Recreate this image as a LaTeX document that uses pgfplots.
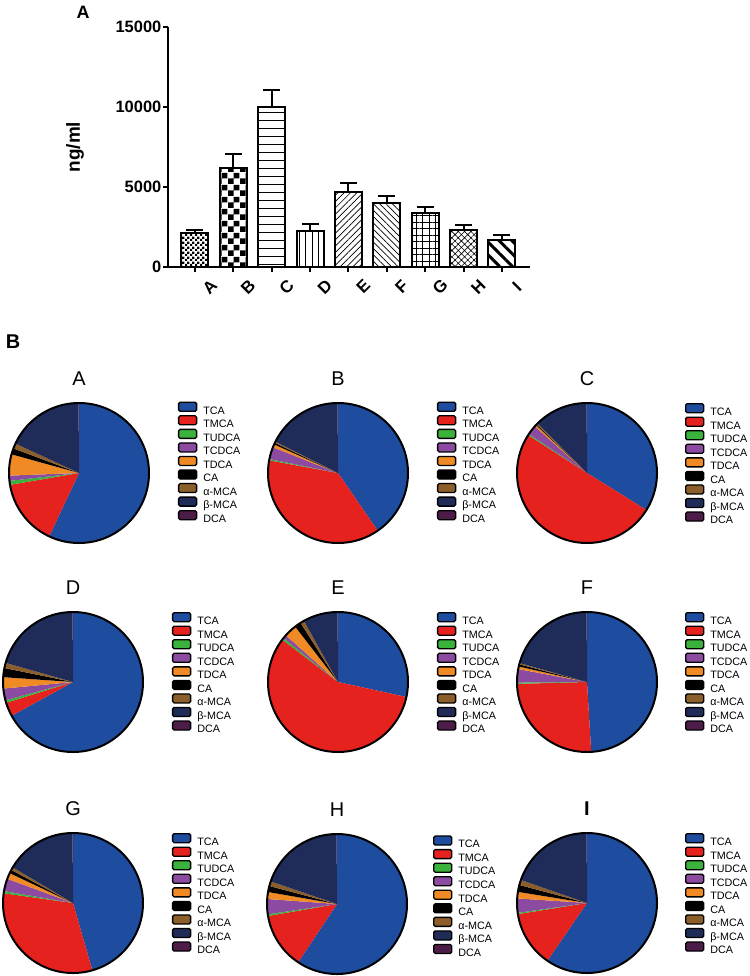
\documentclass[border=0pt]{standalone}
\usepackage{fontspec}
\setmainfont{Liberation Sans}
\usepackage{pgfplots}
\pgfplotsset{compat=1.18}
\usepackage{pgfplotstable}
\usetikzlibrary{patterns,patterns.meta}

\definecolor{c0}{RGB}{30,76,158}
\definecolor{c1}{RGB}{230,34,30}
\definecolor{c2}{RGB}{58,178,60}
\definecolor{c3}{RGB}{140,74,160}
\definecolor{c4}{RGB}{240,138,36}
\definecolor{c5}{RGB}{0,0,0}
\definecolor{c6}{RGB}{139,94,42}
\definecolor{c7}{RGB}{31,43,88}
\definecolor{c8}{RGB}{78,28,72}

% checkerboards for bars A and B
\pgfdeclarepattern{
  name=smallchecker, type=uncolored,
  bottom left={\pgfpointorigin}, top right={\pgfpoint{5bp}{5bp}},
  tile size={\pgfpoint{5bp}{5bp}},
  code={\pgfpathrectangle{\pgfpointorigin}{\pgfpoint{2.5bp}{2.5bp}}
        \pgfpathrectangle{\pgfpoint{2.5bp}{2.5bp}}{\pgfpoint{2.5bp}{2.5bp}}
        \pgfusepath{fill}}
}
\pgfdeclarepattern{
  name=bigchecker, type=uncolored,
  bottom left={\pgfpointorigin}, top right={\pgfpoint{12bp}{12bp}},
  tile size={\pgfpoint{12bp}{12bp}},
  code={\pgfpathrectangle{\pgfpointorigin}{\pgfpoint{6bp}{6bp}}
        \pgfpathrectangle{\pgfpoint{6bp}{6bp}}{\pgfpoint{6bp}{6bp}}
        \pgfusepath{fill}}
}

% share of each bile acid (%), one column per group
\pgfplotstableread{
comp  A    B    C    D    E    F    G    H    I
TCA   57.0 40.4 33.9 67.0 28.5 49.2 45.6 59.5 59.7
TMCA  15.3 37.5 50.3 3.2  57.0 25.6 31.7 12.9 12.9
TUDCA 0.9  0.3  0.3  0.6  0.5  0.3  0.5  0.4  0.3
TCDCA 1.2  2.8  2.2  2.7  0.8  3.1  2.9  3.5  3.3
TDCA  4.9  0.7  0.4  2.6  2.9  0.6  1.4  1.6  1.5
CA    1.4  0.4  0.2  2.1  1.5  0.5  0.8  1.4  1.6
aMCA  1.2  0.3  0.3  1.2  0.9  0.3  0.7  1.1  1.2
bMCA  18.0 17.5 12.4 20.5 8.0  20.6 16.4 19.7 19.6
DCA   0.1  0.1  0.1  0.1  0.1  0.1  0.1  0.1  0.1
}\pies

\newcommand\drawpie[1]{%
  \def\piesum{0}%
  \pgfplotsforeachungrouped \i in {0,...,8}{%
    \pgfplotstablegetelem{\i}{#1}\of\pies
    \pgfmathsetmacro\piesum{\piesum+\pgfplotsretval}%
  }%
  \def\ang{90}%
  \pgfplotsforeachungrouped \i in {0,...,8}{%
    \pgfplotstablegetelem{\i}{#1}\of\pies
    \pgfmathsetmacro\angb{\ang-\pgfplotsretval/\piesum*360}%
    \pgfmathsetmacro\sx{cos(\ang)}%
    \pgfmathsetmacro\sy{sin(\ang)}%
    \edef\cmd{\noexpand\fill[c\i] (axis cs:0,0) -- (axis cs:\sx,\sy)
      arc[start angle=\ang, end angle=\angb, radius=70bp] -- cycle;}%
    \cmd
    \let\ang\angb
  }%
  \draw[line width=2bp] (axis cs:0,0) circle[radius=70bp];
  \pgfplotsforeachungrouped \i in {0,...,8}{%
    \edef\cmd{\noexpand\addlegendimage{fill=c\i}}\cmd
  }%
}

\pgfplotsset{
  pie/.style={
    hide axis, scale only axis, width=140bp, height=140bp,
    xmin=-1, xmax=1, ymin=-1, ymax=1, anchor=center, clip=false,
    title style={at={(0.5,1.13)}, anchor=center, font=\fontsize{20}{20}\selectfont},
    legend entries={TCA,TMCA,TUDCA,TCDCA,TDCA,CA,α-MCA,β-MCA,DCA},
    legend cell align=left,
    legend image code/.code={\draw[##1, line width=1.3bp, rounded corners=1.5bp]
      (0bp,-0.6bp) rectangle (18bp,8.4bp);},
    legend style={draw=none, fill=none, anchor=north west, inner sep=0pt,
      outer sep=0pt, row sep=-1.1bp, column sep=6bp,
      font=\fontsize{10.8}{10.8}\selectfont,
      nodes={inner sep=0pt, text height=9bp, text depth=2.2bp}},
  },
  mybar/.style={ybar, bar width=27bp, bar shift=0pt, draw=black, line width=2bp,
    error bars/y dir=plus, error bars/y explicit,
    error bars/error bar style={line width=2bp, black},
    error bars/error mark options={rotate=90, mark size=8.5bp, line width=2bp, black}},
}

\begin{document}
\begin{tikzpicture}
\path[use as bounding box] (0,0) rectangle (750bp,-976bp);

\node[font=\bfseries\fontsize{18}{18}\selectfont] at (83bp,-12bp) {A};
\node[font=\bfseries\fontsize{20}{20}\selectfont] at (13bp,-342bp) {B};

\begin{axis}[
  at={(168bp,-267bp)}, anchor=south west,
  scale only axis, width=362bp, height=240bp,
  xmin=-0.7, xmax=8.73, ymin=0, ymax=15000,
  axis lines*=left,
  axis line style={line width=2bp},
  every tick/.style={black, line width=2bp},
  major tick length=5bp, tick align=outside,
  ytick={0,5000,10000,15000},
  xtick={0,1,2,3,4,5,6,7,8},
  xticklabels={A,B,C,D,E,F,G,H,I},
  scaled y ticks=false,
  /pgf/number format/1000 sep={},
  /pgf/number format/assume math mode=true,
  yticklabel style={font=\bfseries\fontsize{16.5}{16.5}\selectfont, inner sep=1.5bp},
  xticklabel style={font=\bfseries\fontsize{17}{17}\selectfont, rotate=45, anchor=center, yshift=-21bp},
  ylabel={ng/ml},
  ylabel style={font=\bfseries\fontsize{19}{19}\selectfont, at={(axis description cs:-0.257,0.5)}, anchor=center},
]
\addplot[mybar, pattern=smallchecker] coordinates {(0,2130) +- (0,210)};
\addplot[mybar, pattern=bigchecker] coordinates {(1,6160) +- (0,900)};
\addplot[mybar, pattern={Lines[angle=0, distance=8bp, line width=0.8bp]}] coordinates {(2,10000) +- (0,1060)};
\addplot[mybar, pattern={Lines[angle=90, distance=6.5bp, line width=0.8bp]}] coordinates {(3,2235) +- (0,440)};
\addplot[mybar, pattern={Lines[angle=45, distance=4.5bp, line width=0.7bp]}] coordinates {(4,4660) +- (0,560)};
\addplot[mybar, pattern={Lines[angle=-45, distance=4.5bp, line width=0.7bp]}] coordinates {(5,3970) +- (0,480)};
\addplot[mybar, pattern={Hatch[angle=0, distance=6.5bp, line width=0.8bp]}] coordinates {(6,3400) +- (0,360)};
\addplot[mybar, pattern={Hatch[angle=45, distance=4.5bp, line width=0.6bp]}] coordinates {(7,2340) +- (0,310)};
\addplot[mybar, pattern={Lines[angle=-45, distance=9bp, line width=3bp]}] coordinates {(8,1670) +- (0,300)};
\end{axis}

\begin{axis}[pie, at={(79bp,-473bp)}, title=A, legend style={at={(1.207,1.01)}}]
\drawpie{A}
\end{axis}
\begin{axis}[pie, at={(338bp,-473bp)}, title=B, legend style={at={(1.207,1.01)}}]
\drawpie{B}
\end{axis}
\begin{axis}[pie, at={(587bp,-473bp)}, title=C, legend style={at={(1.2,1.0)}}]
\drawpie{C}
\end{axis}
\begin{axis}[pie, at={(73bp,-682bp)}, title=D, legend style={at={(1.207,1.0)}}]
\drawpie{D}
\end{axis}
\begin{axis}[pie, at={(338bp,-682bp)}, title=E, legend style={at={(1.207,1.0)}}]
\drawpie{E}
\end{axis}
\begin{axis}[pie, at={(587bp,-682bp)}, title=F, legend style={at={(1.2,1.0)}}]
\drawpie{F}
\end{axis}
\begin{axis}[pie, at={(73bp,-903bp)}, title=G, legend style={at={(1.207,1.0)}}]
\drawpie{G}
\end{axis}
\begin{axis}[pie, at={(337bp,-904bp)}, title=H, legend style={at={(1.186,0.99)}}]
\drawpie{H}
\end{axis}
\begin{axis}[pie, at={(587bp,-903bp)}, title=I, title style={font=\bfseries\fontsize{20}{20}\selectfont}, legend style={at={(1.2,1.0)}}]
\drawpie{I}
\end{axis}
\end{tikzpicture}
\end{document}
